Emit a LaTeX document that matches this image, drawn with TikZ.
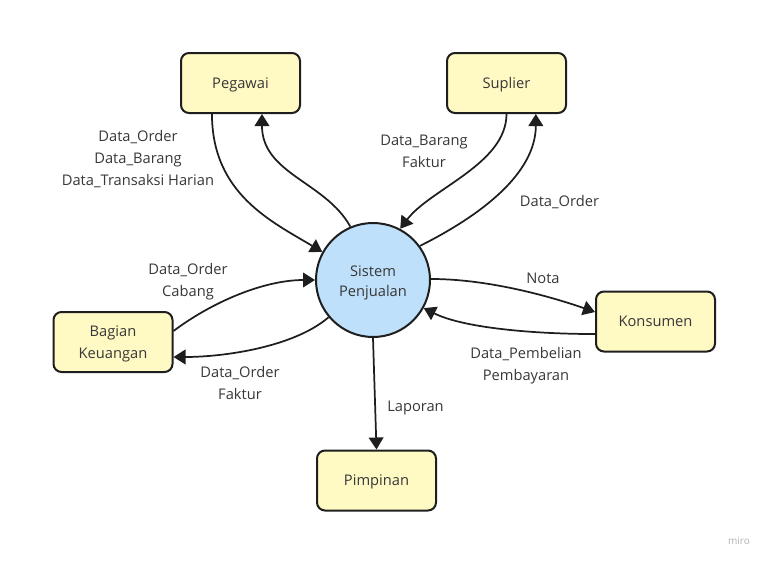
\documentclass[tikz,border=0pt]{standalone}
\usepackage{fontspec}
\setmainfont{Open Sans}
\usetikzlibrary{arrows.meta}
\definecolor{boxfill}{RGB}{255,249,196}
\definecolor{circfill}{RGB}{190,224,250}
\definecolor{txt}{RGB}{55,55,55}
\definecolor{ln}{RGB}{30,30,30}
\tikzset{
  ent/.style={draw=ln, line width=1.5pt, fill=boxfill, rounded corners=6pt,
    minimum width=89.25pt, minimum height=45pt, inner sep=0pt, align=center,
    font=\fontsize{11}{16}\selectfont, text=txt},
  oneline/.style={text height=9.5pt, text depth=2pt},
  twoline/.style={text height=26pt, text depth=2pt},
  proc/.style={draw=ln, line width=1.5pt, fill=circfill, circle,
    minimum size=85.5pt, inner sep=0pt, align=center,
    font=\fontsize{11}{15.5}\selectfont, text=txt, text height=27pt, text depth=2pt},
  flow/.style={draw=ln, line width=1.3pt, -{Triangle[length=9pt,width=11pt]}},
  lbl/.style={align=center, font=\fontsize{11}{16.5}\selectfont, text=txt, inner sep=0pt}
}
\begin{document}
\begin{tikzpicture}[x=0.75pt, y=-0.75pt]
\useasboundingbox (0,0) rectangle (769,564);
\node[ent, oneline] (peg) at (240.5,83) {Pegawai};
\node[ent, oneline] (sup) at (506.5,83) {Suplier};
\node[proc] (sys) at (373,280) {Sistem\\Penjualan};
\node[ent, twoline] (bag) at (113,342) {Bagian\\Keuangan};
\node[ent, oneline] (kon) at (655.5,321.5) {Konsumen};
\node[ent, oneline] (pim) at (376.5,480.5) {Pimpinan};

\draw[flow] ([xshift=-21.4pt]peg.south) .. controls +(0,80) and +(-50,-30) .. (sys.151);
\draw[flow] (sys.113) .. controls +(-25,-45) and +(0,60) .. ([xshift=16.1pt]peg.south);
\draw[flow] (sup.south) .. controls +(0,50) and +(30,-40) .. (sys.62);
\draw[flow] (sys.36) .. controls +(60,-30) and +(0,60) .. ([xshift=22pt]sup.south);
\draw[flow] ([yshift=8.25pt]bag.east) .. controls +(40,-30) and +(-50,0) .. (sys.180);
\draw[flow] (sys.220) .. controls +(-35,30) and +(50,0) .. ([yshift=-11.25pt]bag.east);
\draw[flow] (sys.1) .. controls +(60,0) and +(-40,-14) .. ([yshift=7.1pt]kon.west);
\draw[flow] ([yshift=-9.4pt]kon.west) .. controls +(-60,0) and +(40,20) .. (sys.-29);
\draw[flow] (sys.270) -- (pim.north);

\node[lbl] (l1) at (138,159.5) {Data\_Order\\Data\_Barang\\Data\_Transaksi Harian};
\node[lbl] (l2) at (424,151.5) {Data\_Barang\\Faktur};
\node[lbl] (l3) at (559.5,202) {Data\_Order};
\node[lbl] (l4) at (188,281.5) {Data\_Order\\Cabang};
\node[lbl] (l5) at (240,382.5) {Data\_Order\\Faktur};
\node[lbl] (l6) at (543,278) {Nota};
\node[lbl] (l7) at (526,365.5) {Data\_Pembelian\\Pembayaran};
\node[lbl] (l8) at (415.5,408) {Laporan};
\node[font=\fontsize{7.5}{9}\selectfont, text=black!30, inner sep=0pt] (miro) at (739,541) {miro};
\end{tikzpicture}
\end{document}
